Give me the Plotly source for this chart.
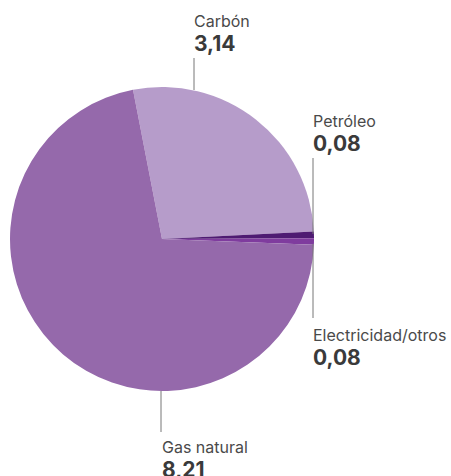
import plotly.graph_objects as go

W, H = 451, 476

categories = ["Carbón", "Petróleo", "Electricidad/otros", "Gas natural"]
values = [3.14, 0.08, 0.08, 8.21]
value_labels = ["3,14", "0,08", "0,08", "8,21"]
colors = ["#b69cca", "#4e1b72", "#7f3c9e", "#9569ab"]

def px_x(x):
    return x / W

def px_y(y):
    return 1 - y / H

cx, cy, r = 162, 239, 152

fig = go.Figure(go.Pie(
    labels=categories,
    values=values,
    sort=False,
    direction="clockwise",
    rotation=-11,
    marker=dict(colors=colors, line=dict(width=0)),
    textinfo="none",
    hoverinfo="label+value",
    domain=dict(x=[px_x(cx - r), px_x(cx + r)], y=[px_y(cy + r), px_y(cy - r)]),
    showlegend=False,
))

# label layout: (text x-left, label mid y, value mid y, leader x, leader y0, y1)
label_pos = [
    (192, 21, 43, 194, 58, 90),
    (311, 121, 143, 313, 158, 234),
    (311, 335, 357, 313, 244, 318),
    (160, 447, 469, 161, 391, 432),
]

FONT = "Inter, Arial, sans-serif"
for cat, val, (tx, ly, vy, lx, y0, y1) in zip(categories, value_labels, label_pos):
    fig.add_annotation(x=px_x(tx), y=px_y(ly), xref="paper", yref="paper",
                       text=cat, showarrow=False, xanchor="left", yanchor="middle",
                       font=dict(family=FONT, size=16, color="#4a4a4a"))
    fig.add_annotation(x=px_x(tx), y=px_y(vy), xref="paper", yref="paper",
                       text="<b>" + val + "</b>", showarrow=False, xanchor="left", yanchor="middle",
                       font=dict(family=FONT, size=21, color="#3a3a3a"))
    fig.add_shape(type="line", xref="paper", yref="paper",
                  x0=px_x(lx), x1=px_x(lx), y0=px_y(y0), y1=px_y(y1),
                  line=dict(color="#777777", width=1))

fig.update_layout(
    width=W, height=H,
    margin=dict(l=0, r=0, t=0, b=0),
    paper_bgcolor="white",
    plot_bgcolor="white",
)

fig.write_html("out.html")
